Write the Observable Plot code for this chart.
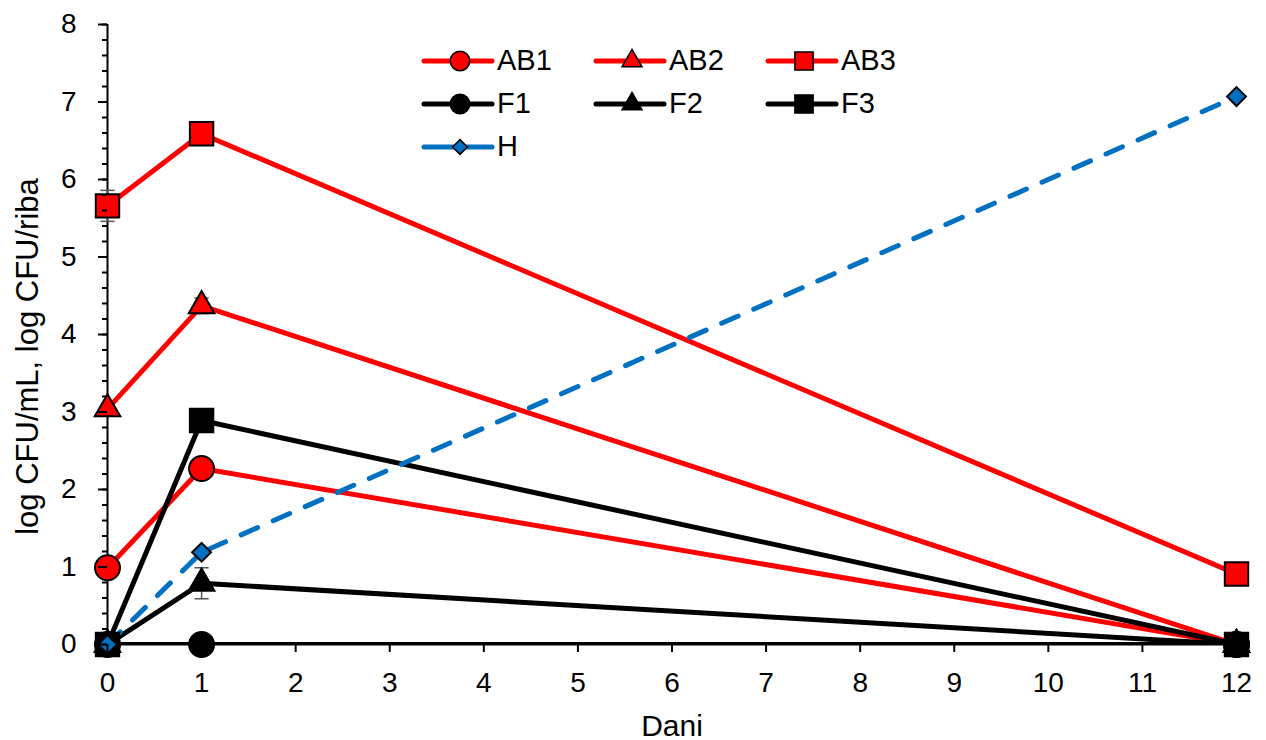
<!DOCTYPE html>
<html><head><meta charset="utf-8">
<script src="https://cdn.jsdelivr.net/npm/d3@7"></script>
<script src="https://cdn.jsdelivr.net/npm/@observablehq/plot@0.6"></script>
<style>
body{margin:0;background:#fff;font-family:"Liberation Sans",Arial,sans-serif;}
#wrap{position:relative;width:1266px;height:740px;}
#legend{position:absolute;left:421px;top:39px;display:grid;grid-template-columns:172px 172px 172px;grid-auto-rows:43px;}
.item{display:flex;align-items:center;font-size:29px;color:#000;}
.item svg{display:block;margin-right:2px;}
#chart svg text{font-size:28px;}
#chart svg g[aria-label="y-axis label"] text{font-size:31px;}
#chart svg g[aria-label="x-axis label"] text{font-size:30px;}
</style></head><body>
<div id="wrap"><div id="chart"></div><div id="legend"></div></div>
<script>
// ---- data ----
const days = [0, 1, 12];
const seriesNames = ["AB1", "AB2", "AB3", "F1", "F2", "F3", "H"];
const AB1 = [0.99, 2.27, 0];
const AB2 = [3.04, 4.37, 0];
const AB3 = [5.66, 6.59, 0.91];
const F1 = [0, 0, 0];
const F2 = [0, 0.79, 0];
const F3 = [0, 2.89, 0];
const H = [0, 1.19, 7.07];
const errAB1 = [0, 0, 0];
const errAB2 = [0, 0.1, 0];
const errAB3 = [0.2, 0, 0];
const errF1 = [0, 0, 0];
const errF2 = [0, 0.2, 0];
const errF3 = [0, 0, 0];
const errH = [0, 0, 0];
const yTicks = [0, 1, 2, 3, 4, 5, 6, 7, 8];
const xTicks = [0, 1, 2, 3, 4, 5, 6, 7, 8, 9, 10, 11, 12];

// ---- styles ----
const values = {AB1, AB2, AB3, F1, F2, F3, H};
const errs = {AB1: errAB1, AB2: errAB2, AB3: errAB3, F1: errF1, F2: errF2, F3: errF3, H: errH};
const style = {
  AB1: {color: "#FF0000", symbol: "circle", r: 12.5},
  AB2: {color: "#FF0000", symbol: "triangle", r: 9.5},
  AB3: {color: "#FF0000", symbol: "square", r: 13.2},
  F1: {color: "#000000", symbol: "circle", r: 12.5},
  F2: {color: "#000000", symbol: "triangle", r: 9.5},
  F3: {color: "#000000", symbol: "square", r: 13.2},
  H: {color: "#0070C0", symbol: "diamond2", r: 8.5, dash: "18,17"}
};

const rows = seriesNames.flatMap(s => days.map((d, i) => ({series: s, day: d, v: values[s][i], e: errs[s][i]})));
const errRows = rows.filter(d => d.e > 0);
const capSymbol = {draw(ctx, size) { const w = Math.sqrt(size); ctx.moveTo(-w, 0); ctx.lineTo(w, 0); }};

const marks = [];
// series lines, clipped to the plotting area as in the original
for (const s of seriesNames) {
  const st = style[s];
  const data = rows.filter(d => d.series === s);
  marks.push(Plot.line(data, {x: "day", y: "v", stroke: st.color, strokeWidth: 5, strokeLinecap: "round", strokeDasharray: st.dash, clip: true}));
}
// axis lines
marks.push(Plot.ruleX([0], {y1: 0, y2: 8, stroke: "#000", strokeWidth: 2}));
marks.push(Plot.ruleY([0], {x1: 0, x2: 12, stroke: "#000", strokeWidth: 2}));
// error bars
marks.push(Plot.ruleX(errRows, {x: "day", y1: d => d.v - d.e, y2: d => d.v + d.e, stroke: "#555", strokeWidth: 1.5}));
marks.push(Plot.dot(errRows, {x: "day", y: d => d.v + d.e, symbol: capSymbol, r: 4, stroke: "#555", strokeWidth: 1.5}));
marks.push(Plot.dot(errRows, {x: "day", y: d => d.v - d.e, symbol: capSymbol, r: 4, stroke: "#555", strokeWidth: 1.5}));
// markers
for (const s of seriesNames) {
  const st = style[s];
  const data = rows.filter(d => d.series === s);
  marks.push(Plot.dot(data, {x: "day", y: "v", symbol: st.symbol, r: st.r, fill: st.color, stroke: "#000", strokeWidth: 2}));
}
// axes
marks.push(Plot.axisY({ticks: d3.range(0, 8.0001, 0.2), tickSize: 5, strokeWidth: 2, tickFormat: () => "", label: null}));
marks.push(Plot.axisY({ticks: yTicks, tickSize: 9, strokeWidth: 2, tickPadding: 22, tickFormat: d3.format("d"), fontSize: 28,
  label: "log CFU/mL, log CFU/riba", labelAnchor: "center", labelArrow: "none", labelOffset: 92}));
marks.push(Plot.axisX({ticks: xTicks, tickSize: 8, strokeWidth: 2, tickPadding: 20, tickFormat: d3.format("d"), fontSize: 28,
  label: "Dani", labelAnchor: "center", labelArrow: "none", labelOffset: 91}));

const chart = Plot.plot({
  width: 1266, height: 740,
  marginLeft: 107, marginRight: 30, marginTop: 24, marginBottom: 96,
  x: {domain: [0, 12]},
  y: {domain: [0, 8]},
  style: {fontFamily: "Liberation Sans, Arial, sans-serif", fontSize: "28px", color: "#000", background: "#fff", overflow: "visible"},
  marks
});
document.getElementById("chart").appendChild(chart);
// the y title sits a little below the middle of the axis in the original
const yl = chart.querySelector('g[aria-label="y-axis label"] text');
if (yl) yl.setAttribute("x", -22);

// ---- legend ----
const symMap = {circle: d3.symbolCircle, triangle: d3.symbolTriangle, square: d3.symbolSquare, diamond2: d3.symbolDiamond2};
const legend = d3.select("#legend");
for (const s of seriesNames) {
  const st = style[s];
  const it = legend.append("div").attr("class", "item");
  const svg = it.append("svg").attr("width", 74).attr("height", 30);
  svg.append("line").attr("x1", 3).attr("x2", 71).attr("y1", 15).attr("y2", 15)
    .attr("stroke", st.color).attr("stroke-width", 5).attr("stroke-linecap", "round");
  const rr = st.r * 0.78;
  svg.append("path").attr("transform", "translate(39,15)")
    .attr("d", d3.symbol(symMap[st.symbol], Math.PI * rr * rr)())
    .attr("fill", st.color).attr("stroke", "#000").attr("stroke-width", 1.5);
  it.append("span").text(s);
}
</script>
</body></html>
